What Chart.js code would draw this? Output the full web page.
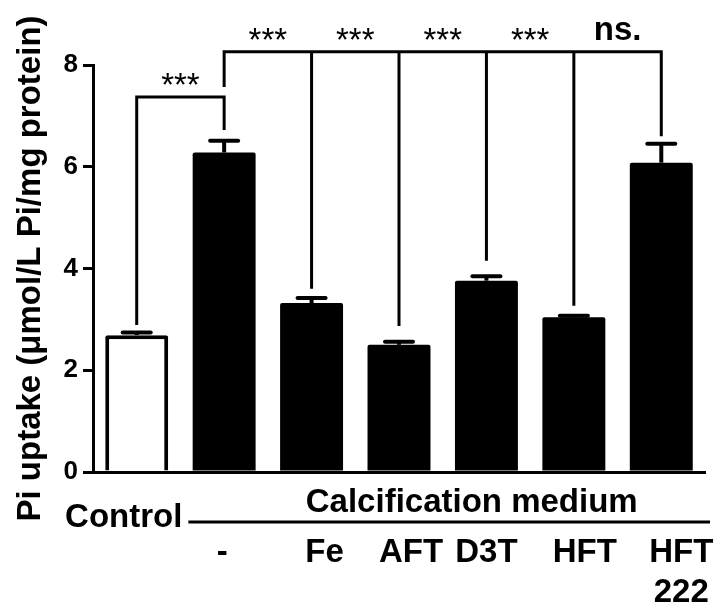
<!DOCTYPE html>
<html>
<head>
<meta charset="utf-8">
<script src="https://cdn.jsdelivr.net/npm/chart.js@4.4.1/dist/chart.umd.min.js"></script>
<style>
  html, body { margin: 0; padding: 0; background: #fff; }
  #wrap { width: 717px; height: 609px; }
</style>
</head>
<body>
<div id="wrap"><canvas id="chart"></canvas></div>
<script>
const groups = ['Control', '-', 'Fe', 'AFT', 'D3T', 'HFT', ['HFT', '222']]
const uptake = [2.69, 6.28, 3.32, 2.50, 3.76, 3.04, 6.08]
const sem = [0.05, 0.23, 0.10, 0.06, 0.09, 0.03, 0.37]
const yTicks = [0, 2, 4, 6, 8]
const mediumLabel = 'Calcification medium'

// significance brackets (bar indexes, where each leg stops, bracket height, marks)
const lowerLegs = [0, 1]
const lowerLegEnds = [2.89, 6.72]
const lowerLevel = 7.37
const lowerMarks = ['***']
const upperLegs = [1, 2, 3, 4, 5, 6]
const upperLegEnds = [7.57, 3.60, 2.87, 4.15, 3.27, 6.60]
const upperLevel = 8.26
const upperMarks = ['***', '***', '***', '***', 'ns.']

const FONT = "'Liberation Sans', Arial, Helvetica, sans-serif"
const labelNudge = [-13, -2, 13, 12, 0, 11, 20]

const errorBars = {
  id: 'errorBars',
  afterDatasetsDraw(chart) {
    const ctx = chart.ctx
    const y = chart.scales.y
    const bars = chart.getDatasetMeta(0).data
    ctx.save()
    ctx.strokeStyle = '#000'
    ctx.lineWidth = 4
    bars.forEach((bar, i) => {
      const top = y.getPixelForValue(uptake[i] + sem[i])
      const base = y.getPixelForValue(uptake[i])
      ctx.lineCap = 'butt'
      ctx.beginPath()
      ctx.moveTo(bar.x, base)
      ctx.lineTo(bar.x, top)
      ctx.stroke()
      ctx.lineCap = 'round'
      ctx.beginPath()
      ctx.moveTo(bar.x - 14, top)
      ctx.lineTo(bar.x + 14, top)
      ctx.stroke()
    })
    ctx.restore()
  }
}

function drawBracket(chart, legs, ends, level, marks) {
  const ctx = chart.ctx
  const x = chart.scales.x
  const y = chart.scales.y
  const xs = legs.map(i => x.getPixelForValue(i))
  const yl = y.getPixelForValue(level)
  const last = xs.length - 1
  ctx.beginPath()
  ctx.moveTo(xs[0], y.getPixelForValue(ends[0]))
  ctx.lineTo(xs[0], yl)
  ctx.lineTo(xs[last], yl)
  ctx.lineTo(xs[last], y.getPixelForValue(ends[last]))
  for (let k = 1; k < last; k++) {
    ctx.moveTo(xs[k], yl)
    ctx.lineTo(xs[k], y.getPixelForValue(ends[k]))
  }
  ctx.stroke()
  marks.forEach((m, k) => {
    const cx = (xs[k] + xs[k + 1]) / 2
    const ns = m === 'ns.'
    ctx.font = (ns ? 'bold ' : '') + '33px ' + FONT
    ctx.fillText(m, cx, yl - (ns ? 12 : 1))
  })
}

const brackets = {
  id: 'brackets',
  afterDatasetsDraw(chart) {
    const ctx = chart.ctx
    ctx.save()
    ctx.strokeStyle = '#000'
    ctx.fillStyle = '#000'
    ctx.lineWidth = 3
    ctx.lineJoin = 'miter'
    ctx.textAlign = 'center'
    ctx.textBaseline = 'alphabetic'
    drawBracket(chart, lowerLegs, lowerLegEnds, lowerLevel, lowerMarks)
    drawBracket(chart, upperLegs, upperLegEnds, upperLevel, upperMarks)
    ctx.restore()
  }
}

const groupLabels = {
  id: 'groupLabels',
  afterDraw(chart) {
    const ctx = chart.ctx
    const x = chart.scales.x
    const bottom = chart.chartArea.bottom
    ctx.save()
    ctx.fillStyle = '#000'
    ctx.strokeStyle = '#000'
    ctx.font = 'bold 33px ' + FONT
    ctx.textAlign = 'center'
    ctx.textBaseline = 'alphabetic'

    // control sits on the row of the medium line
    const cx0 = x.getPixelForValue(0) + labelNudge[0]
    ctx.fillText(groups[0], cx0, bottom + 55)
    const controlRight = cx0 + ctx.measureText(groups[0]).width / 2

    // calcification medium title and line under it
    const mid = (x.getPixelForValue(1) + x.getPixelForValue(groups.length - 1)) / 2 + 29
    ctx.fillText(mediumLabel, mid, bottom + 40)
    ctx.lineWidth = 3
    ctx.beginPath()
    ctx.moveTo(controlRight + 6, bottom + 50)
    ctx.lineTo(chart.chartArea.right + 5, bottom + 50)
    ctx.stroke()

    for (let i = 1; i < groups.length; i++) {
      const lines = Array.isArray(groups[i]) ? groups[i] : [groups[i]]
      const cx = x.getPixelForValue(i) + labelNudge[i]
      lines.forEach((t, k) => ctx.fillText(t, cx, bottom + 90 + k * 40))
    }
    ctx.restore()
  }
}

new Chart(document.getElementById('chart'), {
  type: 'bar',
  data: {
    labels: groups,
    datasets: [{
      data: uptake,
      backgroundColor: uptake.map((v, i) => i === 0 ? '#fff' : '#000'),
      borderColor: '#000',
      borderWidth: uptake.map((v, i) => i === 0 ? 4 : 0),
      borderRadius: 2,
      barPercentage: 0.72,
      categoryPercentage: 1
    }]
  },
  options: {
    responsive: true,
    maintainAspectRatio: false,
    animation: false,
    devicePixelRatio: 1,
    layout: { padding: { top: 65, right: 12, left: 0, bottom: 0 } },
    plugins: { legend: { display: false }, tooltip: { enabled: false } },
    scales: {
      x: {
        grid: { display: false },
        border: { display: true, width: 3, color: '#000' },
        ticks: { display: false },
        afterFit: s => { s.height = 137 }
      },
      y: {
        min: 0,
        max: 8,
        afterBuildTicks: s => { s.ticks = yTicks.map(v => ({ value: v })) },
        grid: { drawOnChartArea: false, tickLength: 10, lineWidth: 3, color: '#000' },
        border: { display: true, width: 3, color: '#000' },
        ticks: { padding: 5, color: '#000', font: { family: FONT, size: 26, weight: 'bold' } },
        title: {
          display: true,
          text: 'Pi uptake (\u03bcmol/L Pi/mg protein)',
          color: '#000',
          font: { family: FONT, size: 33, weight: 'bold' },
          padding: { top: 11, bottom: 0 }
        },
        afterFit: s => { s.width = 93 }
      }
    }
  },
  plugins: [errorBars, brackets, groupLabels]
})
</script>
</body>
</html>
